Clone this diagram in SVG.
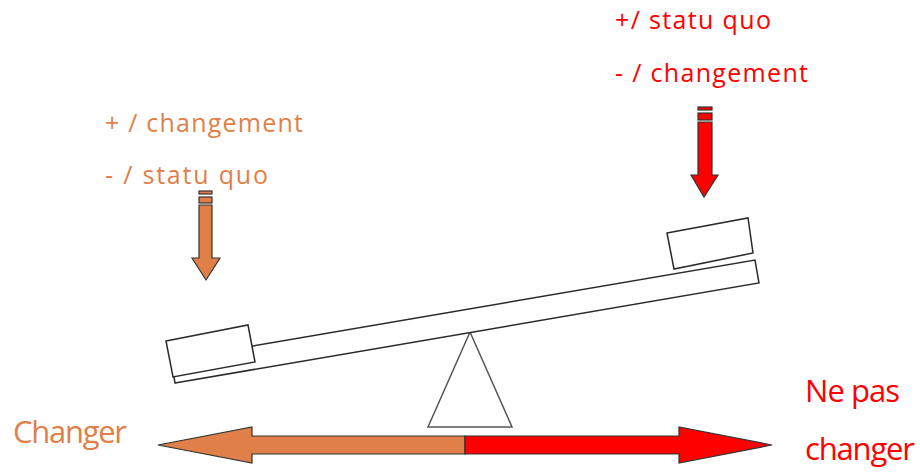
<svg xmlns="http://www.w3.org/2000/svg" width="920" height="473" viewBox="0 0 920 473">
<style>
.t{font-family:"Open Sans","Noto Sans",sans-serif;}
.or{fill:#E07F48;}
.rd{fill:#FF0000;}
.s{font-size:25px;}
.b{font-size:31px;}
.line{fill:#ffffff;stroke:#2a2a2a;stroke-width:1.5;}
.tri{fill:#ffffff;stroke:#555555;stroke-width:1.5;}
.ao{fill:#E07F48;stroke:#333333;stroke-width:1.2;}
.ar{fill:#FF0000;stroke:#333333;stroke-width:1.2;}
</style>
<rect width="920" height="473" fill="#ffffff"/>
<g id="fulcrum">
<polygon class="tri" points="470,332 428,427 512,427"/>
</g>
<g id="plank">
<polygon class="line" points="175,383 759,283 755,260 171,360"/>
</g>
<g id="left-box">
<polygon class="line" points="166,341 248,325 255,362 173,377"/>
</g>
<g id="right-box">
<polygon class="line" points="667,233 748,218 753,253 674,269"/>
</g>
<g id="left-label">
<text class="t or s" x="105" y="132" textLength="198" lengthAdjust="spacing">+ / changement</text>
<text class="t or s" x="105" y="184" textLength="163" lengthAdjust="spacing">- / statu quo</text>
</g>
<g id="right-label">
<text class="t rd s" x="615" y="29" textLength="156" lengthAdjust="spacing">+/ statu quo</text>
<text class="t rd s" x="615" y="82" textLength="193" lengthAdjust="spacing">- / changement</text>
</g>
<g id="left-force">
<rect class="ao" x="199" y="191" width="13" height="3"/>
<rect class="ao" x="199" y="197" width="13" height="6"/>
<polygon class="ao" points="199,205 212,205 212,258 220,258 206,280 192,258 199,258"/>
</g>
<g id="right-force">
<rect class="ar" x="698" y="107" width="14" height="3"/>
<rect class="ar" x="698" y="113" width="14" height="7"/>
<polygon class="ar" points="698,122 712,122 712,175 718,175 704,197 691,175 698,175"/>
</g>
<g id="connectors">
<polygon class="ao" points="465,436 252,436 252,427 158,445 252,463 252,454 465,454"/>
<polygon class="ar" points="465,436 679,436 679,427 772,445 679,463 679,454 465,454"/>
</g>
<g id="changer">
<text class="t or b" x="13" y="443" textLength="114" lengthAdjust="spacing">Changer</text>
</g>
<g id="ne-pas-changer">
<text class="t rd b" x="805" y="402" textLength="95" lengthAdjust="spacing">Ne pas</text>
<text class="t rd b" x="805" y="460" textLength="110" lengthAdjust="spacing">changer</text>
</g>
</svg>
